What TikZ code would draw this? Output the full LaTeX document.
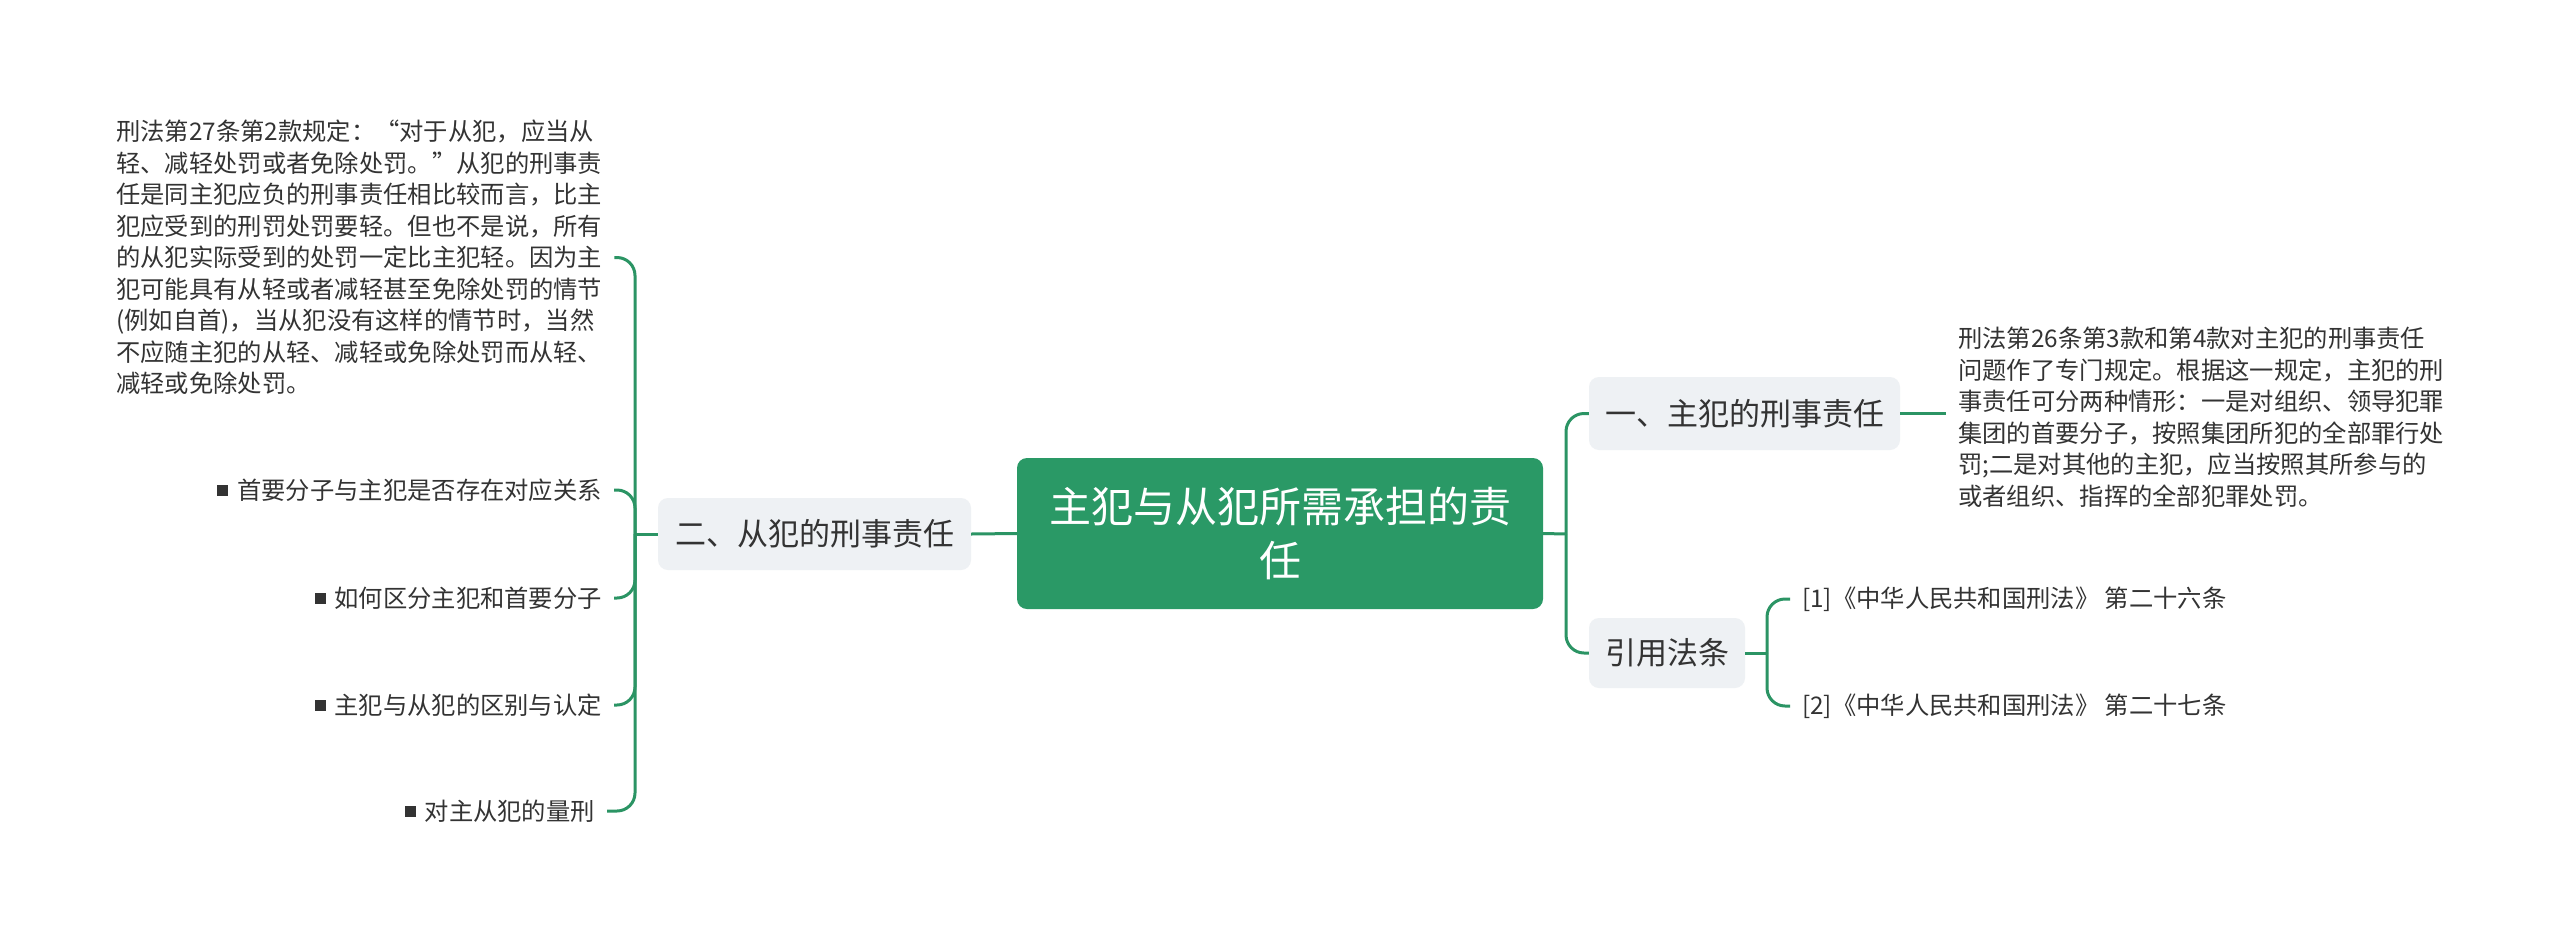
\documentclass[tikz,border=0pt]{standalone}
\usepackage{fontspec}
\setmainfont{Noto Sans CJK SC}
\usepackage{xcolor}
\definecolor{mgreen}{HTML}{2A9966}
\definecolor{lgreen}{HTML}{2B9464}
\definecolor{boxgray}{HTML}{EEF1F4}
\definecolor{txt}{HTML}{333333}
\newcommand{\sqbullet}{\raisebox{3.7pt}{\rule{11pt}{11pt}}\hspace{9pt}}
\newcommand{\fq}[1]{{\addfontfeature{RawFeature=+fwid}#1}}
\begin{document}
\begin{tikzpicture}[x=1pt,y=-1pt,
  conn/.style={draw=lgreen, line width=3pt, rounded corners=18pt},
  lonebox/.style={fill=boxgray, rounded corners=10pt, inner sep=0pt, text=txt, font=\fontsize{31}{38}\selectfont},
  detail/.style={inner sep=0pt, text=txt, font=\fontsize{24.3}{31.5}\selectfont, align=left},
  itemtxt/.style={inner sep=0pt, text=txt, font=\fontsize{24.3}{31.5}\selectfont},
]
\fill[white] (0,0) rectangle (2560,943);
\useasboundingbox (0,0) rectangle (2560,943);

\node[fill=mgreen, rounded corners=10pt, minimum width=526pt, minimum height=151pt, inner sep=0pt, text=white, align=center, font=\fontsize{42}{54}\selectfont] (root) at (1280,533.5) {主犯与从犯所需承担的责\\任};

\node[lonebox, minimum width=313pt, minimum height=72pt] (left) at (814.5,534) {二、从犯的刑事责任};
\node[lonebox, minimum width=311pt, minimum height=73pt] (r1) at (1744.5,413.5) {一、主犯的刑事责任};
\node[lonebox, minimum width=156pt, minimum height=70pt] (r2) at (1667,653) {引用法条};

\node[detail, anchor=north west] (ld) at (116,120) {刑法第27条第2款规定：\fq{“}对于从犯，应当从\\
轻、减轻处罚或者免除处罚。\fq{”}从犯的刑事责\\
任是同主犯应负的刑事责任相比较而言，比主\\
犯应受到的刑罚处罚要轻。但也不是说，所有\\
的从犯实际受到的处罚一定比主犯轻。因为主\\
犯可能具有从轻或者减轻甚至免除处罚的情节\\
(例如自首)，当从犯没有这样的情节时，当然\\
不应随主犯的从轻、减轻或免除处罚而从轻、\\
减轻或免除处罚。};

\node[itemtxt, anchor=east] (i1) at (602,490) {\sqbullet 首要分子与主犯是否存在对应关系};
\node[itemtxt, anchor=east] (i2) at (602,598) {\sqbullet 如何区分主犯和首要分子};
\node[itemtxt, anchor=east] (i3) at (602,705) {\sqbullet 主犯与从犯的区别与认定};
\node[itemtxt, anchor=east] (i4) at (595,811) {\sqbullet 对主从犯的量刑};

\node[detail, anchor=north west] (rd) at (1958,327) {刑法第26条第3款和第4款对主犯的刑事责任\\
问题作了专门规定。根据这一规定，主犯的刑\\
事责任可分两种情形：一是对组织、领导犯罪\\
集团的首要分子，按照集团所犯的全部罪行处\\
罚;二是对其他的主犯，应当按照其所参与的\\
或者组织、指挥的全部犯罪处罚。};

\node[itemtxt, anchor=west] (c1) at (1802,599) {[1]《中华人民共和国刑法》 第二十六条};
\node[itemtxt, anchor=west] (c2) at (1802,706) {[2]《中华人民共和国刑法》 第二十七条};

% connectors
\coordinate (ls) at (635,534);
\coordinate (rs) at (1566,534);
\coordinate (cs) at (1767,653);

\draw[conn] (root.west) -- (left.east);
\draw[conn] (left.west) -- (ls);
\foreach \c in {ld,i1,i2,i3,i4} \draw[conn] (ls) |- ([xshift=12pt]\c.east);

\draw[conn] (root.east) -- (rs);
\draw[conn] (rs) |- (r1.west);
\draw[conn] (rs) |- (r2.west);
\draw[conn, shorten >=12pt] (r1.east) -- (r1.east -| rd.west);

\draw[conn] (r2.east) -- (cs);
\draw[conn] (cs) |- ([xshift=-12pt]c1.west);
\draw[conn] (cs) |- ([xshift=-12pt]c2.west);
\end{tikzpicture}
\end{document}
